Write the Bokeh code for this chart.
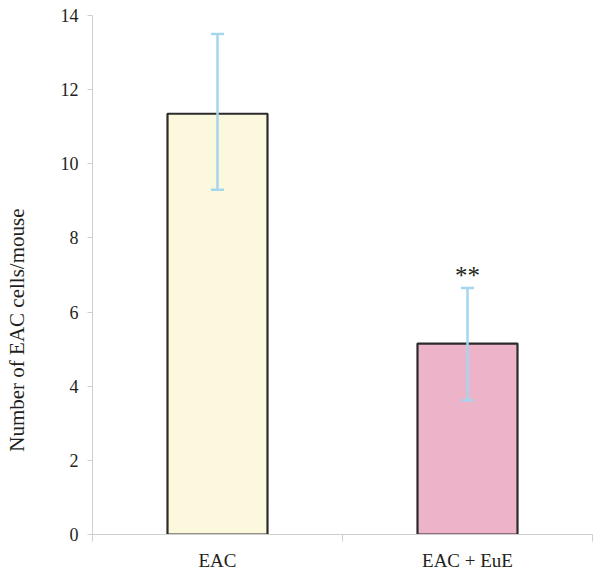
from bokeh.plotting import figure
from bokeh.models import ColumnDataSource, Range1d, FixedTicker, Whisker, TeeHead
from bokeh.core.properties import value
from bokeh.embed import file_html
from bokeh.resources import INLINE

categories = ["EAC", "EAC + EuE"]
means = [11.35, 5.15]
upper = [13.5, 6.65]
lower = [9.3, 3.62]
marks = ["", "**"]
bar_colors = ["#fbf8de", "#edb3c9"]
y_ticks = [0, 2, 4, 6, 8, 10, 12, 14]
y_title = "Number of EAC cells/mouse"

pos = [i + 0.5 for i in range(len(categories))]
bounds = [float(i) for i in range(len(categories) + 1)]

src = ColumnDataSource(dict(x=pos, top=means, upper=upper, lower=lower,
                            mark=marks, color=bar_colors))

FONT = "Liberation Serif"
GRAY = "#cfcfcf"
TXT = "#231f20"
ERR = "#a6d6ee"

p = figure(width=593, height=573, output_backend="svg", toolbar_location=None,
           x_range=Range1d(0, 2), y_range=Range1d(0, 14),
           min_border_left=92, min_border_right=1, min_border_top=15,
           min_border_bottom=36)
p.outline_line_color = None
p.grid.visible = False
p.background_fill_color = "white"

p.vbar(x="x", top="top", width=0.4, bottom=0, source=src, fill_color="color",
       line_color="#2b2b2b", line_width=2.2)

w = Whisker(base="x", upper="upper", lower="lower", source=src, level="overlay",
            line_color=ERR, line_width=2.5,
            upper_head=TeeHead(size=13, line_color=ERR, line_width=2.5),
            lower_head=TeeHead(size=13, line_color=ERR, line_width=2.5))
p.add_layout(w)

p.text(x="x", y="upper", text="mark", source=src, text_align="center",
       text_baseline="middle", y_offset=-12, text_font=value(FONT),
       text_font_size="25px", text_color=TXT)

# x axis
xa = p.xaxis[0]
xa.ticker = FixedTicker(ticks=pos, minor_ticks=bounds)
xa.major_label_overrides = {p_: c for p_, c in zip(pos, categories)}
xa.major_tick_out = 0
xa.major_tick_in = 0
xa.minor_tick_out = 7
xa.minor_tick_in = 0
xa.minor_tick_line_color = GRAY
xa.axis_line_color = GRAY
xa.major_label_standoff = 8
xa.major_label_text_font = FONT
xa.major_label_text_font_size = "19px"
xa.major_label_text_color = TXT

# y axis
ya = p.yaxis[0]
ya.ticker = FixedTicker(ticks=y_ticks, minor_ticks=[])
ya.axis_line_color = GRAY
ya.major_tick_line_color = GRAY
ya.major_tick_out = 5
ya.major_tick_in = 0
ya.major_label_standoff = 9
ya.major_label_text_font = FONT
ya.major_label_text_font_size = "18px"
ya.major_label_text_color = TXT
# trailing no-break spaces shift the title down, as it sits in the original
ya.axis_label = y_title + "\u00a0" * 21
ya.axis_label_standoff = 29
ya.axis_label_text_font = FONT
ya.axis_label_text_font_size = "21px"
ya.axis_label_text_font_style = "normal"
ya.axis_label_text_color = TXT

open("out.html", "w").write(file_html(p, INLINE))
